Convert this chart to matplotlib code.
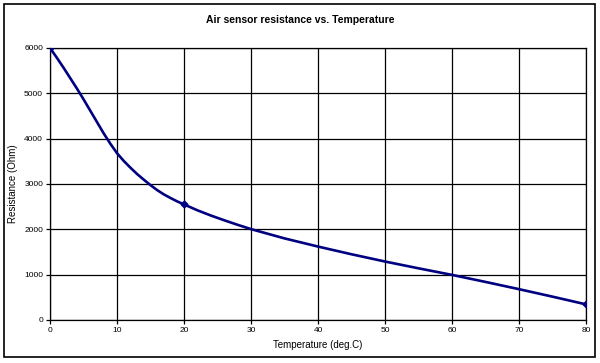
import matplotlib
matplotlib.use("Agg")
import matplotlib.pyplot as plt
from matplotlib.patches import Rectangle

temperature = [0, 1, 2, 3, 4, 5, 6, 7, 8, 9, 10, 11, 12, 13, 14, 15, 16, 17, 18, 19, 20,
               22, 24, 26, 28, 30, 35, 40, 45, 50, 55, 60, 65, 70, 75, 80]
resistance = [6000, 5790, 5570, 5340, 5110, 4870, 4620, 4370, 4120, 3890, 3680, 3510, 3360,
              3220, 3095, 2975, 2865, 2770, 2690, 2615, 2550,
              2420, 2305, 2200, 2100, 2005, 1800, 1620, 1450, 1290, 1140, 995, 840, 680, 515, 345]
marker_temp = [0, 20, 80]
marker_res = [6000, 2550, 345]
x_ticks = [0, 10, 20, 30, 40, 50, 60, 70, 80]
y_ticks = [0, 1000, 2000, 3000, 4000, 5000, 6000]

plt.rcParams['font.family'] = ['Liberation Sans', 'DejaVu Sans']

fig = plt.figure(figsize=(6.0, 3.63), dpi=100)
fig.patches.append(Rectangle((4/600, 1-357/363), 591/600, 353/363, transform=fig.transFigure,
                             fill=False, edgecolor='black', linewidth=1.2))
ax = fig.add_axes([50/600, 1-320/363, 536/600, 272/363])
ax.plot(temperature, resistance, color='#000080', linewidth=1.9, zorder=3,
        solid_joinstyle='round', solid_capstyle='round')
ax.plot(marker_temp, marker_res, linestyle='none', marker='D', markersize=3.5, color='#000080', zorder=4)
ax.set_xlim(0, 80)
ax.set_ylim(0, 6000)
ax.set_xticks(x_ticks)
ax.set_yticks(y_ticks)
ax.grid(True, color='black', linewidth=0.9)
ax.set_axisbelow(True)
for s in ax.spines.values():
    s.set_linewidth(0.9)
ax.tick_params(axis='both', labelsize=6, direction='out', length=3, width=0.9, pad=2)
ax.set_xlabel('Temperature (deg.C)', fontsize=7, labelpad=4)
ax.set_ylabel('Resistance (Ohm)', fontsize=7)
ax.yaxis.set_label_coords(-32/536, 0.5)
fig.text(0.5, 1-20/363, 'Air sensor resistance vs. Temperature', ha='center', va='center',
         fontsize=7.5, fontweight='bold')
fig.savefig('out.png', dpi=100)
